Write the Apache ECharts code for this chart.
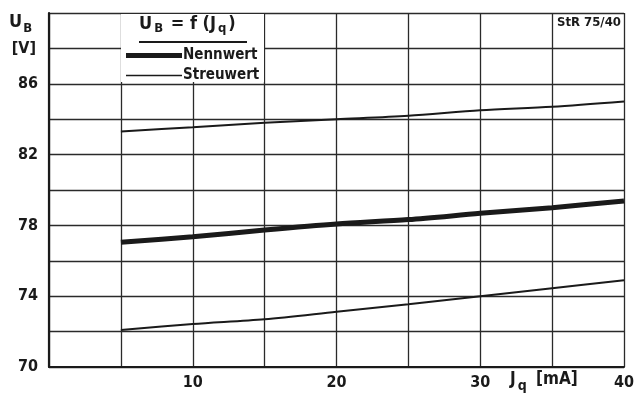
<!DOCTYPE html>
<html><head><meta charset="utf-8">
<script src="https://cdn.jsdelivr.net/npm/echarts@6/dist/echarts.min.js"></script>
<style>html,body{margin:0;padding:0;background:#fff}#c{width:638px;height:403px}</style>
</head><body><div id="c"></div>
<script>
const jq = [5, 10, 15, 20, 25, 30, 35, 40];
const nennwert = [77.05, 77.36, 77.74, 78.08, 78.33, 78.68, 79.0, 79.38];
const streuOben = [83.3, 83.55, 83.8, 84.0, 84.2, 84.5, 84.7, 85.0];
const streuUnten = [72.09, 72.43, 72.7, 73.12, 73.54, 74.0, 74.45, 74.9];
const xTickLabels = [10, 20, 30, 40];
const yTickLabels = [70, 74, 78, 82, 86];
const FONT = "'DejaVu Sans Condensed','DejaVu Sans',sans-serif";
const INK = '#1a1a1a';
const GRIDC = '#2a2a2a';

const pairs = (ys) => jq.map((x, i) => [x, ys[i]]);
const chart = echarts.init(document.getElementById('c'));
chart.setOption({
  animation: false,
  backgroundColor: '#fff',
  grid: { left: 49, right: 14, top: 13, bottom: 36 },
  xAxis: {
    type: 'value', min: 0, max: 40, interval: 5,
    axisLine: { show: true, lineStyle: { color: INK, width: 2 } },
    axisTick: { show: false },
    splitLine: { show: true, lineStyle: { color: GRIDC, width: 1.3 } },
    axisLabel: {
      color: INK, fontFamily: FONT, fontWeight: 'bold', fontSize: 16, margin: 8,
      formatter: v => xTickLabels.includes(v) ? String(v) : ''
    }
  },
  yAxis: {
    type: 'value', min: 70, max: 90, interval: 2,
    axisLine: { show: true, lineStyle: { color: INK, width: 2.2 } },
    axisTick: { show: false },
    splitLine: { show: true, lineStyle: { color: GRIDC, width: 1.3 } },
    axisLabel: {
      color: INK, fontFamily: FONT, fontWeight: 'bold', fontSize: 16, margin: 11,
      formatter: v => yTickLabels.includes(v) ? String(v) : (v === 88 ? '{v|[V]}' : ''),
      rich: { v: { fontFamily: FONT, fontWeight: 'bold', fontSize: 16, color: INK, padding: [0, 2, 0, 0] } }
    }
  },
  legend: {
    left: 121, top: 43, orient: 'vertical', itemGap: 5,
    itemWidth: 56, itemHeight: 6,
    textStyle: { color: INK, fontFamily: FONT, fontWeight: 'bold', fontSize: 15, padding: [0, 0, 0, -4] },
    data: [
      { name: 'Nennwert', icon: 'path://M0,0 L56,0 L56,5 L0,5 Z', itemStyle: { color: INK } },
      { name: 'Streuwert', icon: 'path://M0,0 L56,0 L56,1.6 L0,1.6 Z', itemStyle: { color: INK } }
    ]
  },
  graphic: [
    { type: 'rect', z: 1, shape: { x: 121, y: 14, width: 143, height: 68 }, style: { fill: '#fff' } },
    { type: 'text', z: 2, left: 139, top: 15, style: {
        text: '{m|U}{s|B}{m| = f (J}{s|q}{m|)}', fill: INK,
        rich: { m: { fontFamily: FONT, fontWeight: 'bold', fontSize: 18 },
                s: { fontFamily: FONT, fontWeight: 'bold', fontSize: 13, padding: [10, 2, 0, 2] } } } },
    { type: 'line', z: 2, shape: { x1: 139, y1: 42, x2: 247, y2: 42 }, style: { stroke: INK, lineWidth: 2 } },
    { type: 'text', z: 2, left: 9, top: 13, style: {
        text: '{m|U}{s|B}', fill: INK,
        rich: { m: { fontFamily: FONT, fontWeight: 'bold', fontSize: 18 },
                s: { fontFamily: FONT, fontWeight: 'bold', fontSize: 13, padding: [13, 0, 0, 1] } } } },
    { type: 'text', z: 2, left: 510, top: 371, style: {
        text: '{m|J}{s|q}{m| [mA]}', fill: INK,
        rich: { m: { fontFamily: FONT, fontWeight: 'bold', fontSize: 17 },
                s: { fontFamily: FONT, fontWeight: 'bold', fontSize: 14, padding: [14, 4, 0, 2] } } } },
    { type: 'text', z: 2, left: 557, top: 16, style: { text: 'StR 75/40', fill: INK, font: "bold 13px " + FONT } }
  ],
  series: [
    { name: 'Nennwert', type: 'line', data: pairs(nennwert), symbol: 'none', smooth: 0.3,
      lineStyle: { color: INK, width: 5 } },
    { name: 'Streuwert', type: 'line', data: pairs(streuOben), symbol: 'none', smooth: 0.3,
      lineStyle: { color: INK, width: 2 } },
    { name: 'Streuwert', type: 'line', data: pairs(streuUnten), symbol: 'none', smooth: 0.3,
      lineStyle: { color: INK, width: 2 } }
  ]
});
</script></body></html>
